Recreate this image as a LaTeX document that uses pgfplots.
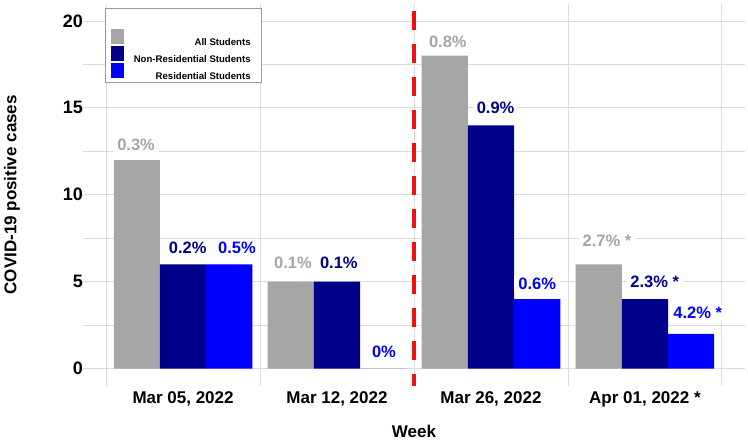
\documentclass[border=0pt]{standalone}
\usepackage{pgfplots}
\pgfplotsset{compat=1.18}
\usepackage{pgfplotstable}
\usepackage{fontspec}
\setmainfont{Liberation Sans}
\definecolor{cgray}{HTML}{A6A6A6}
\definecolor{cnavy}{HTML}{00008B}
\definecolor{cblue}{HTML}{0000FF}
\definecolor{cgrid}{HTML}{DCDCDC}
\definecolor{cred}{HTML}{EE1111}

\pgfplotstableread{
x all non res
1 12 6 6
2 5 5 0
3 18 14 4
4 6 4 2
}\cases

\pgfplotstableread[col sep=comma]{
xa,ya,la,xn,yn,ln,xr,yr,lr
0.695,12.9,0.3\%,1.03,6.95,0.2\%,1.35,6.95,0.5\%
1.714,6.1,0.1\%,2.012,6.1,0.1\%,2.305,0.98,0\%
2.72,18.8,0.8\%,3.03,15.0,0.9\%,3.30,4.85,0.6\%
3.753,7.35,2.7\%~*,4.064,5.0,2.3\%~*,4.343,3.22,4.2\%~*
}\labels

\begin{document}
\begin{tikzpicture}
\begin{axis}[
  scale only axis,
  width=662pt, height=382.4pt,
  xmin=0.35, xmax=4.65, ymin=-1, ymax=21,
  axis line style={draw=none},
  major tick length=0pt, minor tick length=0pt,
  xtick={1,2,3,4},
  xticklabels={{Mar 05, 2022}, {Mar 12, 2022}, {Mar 26, 2022}, {Apr 01, 2022 *}},
  extra x ticks={0.5,1.5,2.5,3.5,4.5},
  extra x tick labels={},
  extra x tick style={xmajorgrids=true},
  ytick={0,5,10,15,20},
  minor ytick={2.5,7.5,12.5,17.5},
  ymajorgrids, yminorgrids,
  major grid style={cgrid, line width=0.9pt},
  minor grid style={cgrid, line width=0.9pt},
  /pgf/number format/assume math mode=true,
  yticklabel style={font=\bfseries\fontsize{18}{18}\selectfont, xshift=3.5pt},
  xticklabel style={font=\bfseries\fontsize{17}{17}\selectfont, yshift=-2pt},
  xlabel={Week},
  ylabel={COVID-19 positive cases},
  xlabel style={font=\bfseries\fontsize{17}{17}\selectfont, at={(axis description cs:0.5,0)}, anchor=north, yshift=-36pt},
  ylabel style={font=\bfseries\fontsize{17}{17}\selectfont, at={(axis description cs:-0.10725,0.5)}, anchor=center},
  legend cell align=right,
  legend image code/.code={\fill[#1, draw=none] (0pt,-7.5pt) rectangle (13pt,7.5pt);},
  legend style={
    at={(axis description cs:0,1)}, anchor=north west, xshift=22pt, yshift=-4.5pt,
    draw=gray!80, line width=0.6pt, fill=white,
    inner xsep=5.5pt, inner ysep=3pt,
    column sep=10pt, row sep=0pt,
    font=\bfseries\fontsize{9.6}{10}\selectfont,
    nodes={inner sep=0pt, text height=17pt, text depth=-1pt},
  },
]
\addlegendimage{empty legend}
\addlegendentry{}

\addplot[ybar, bar width=0.3, bar shift=-0.3, fill=cgray, draw=none] table[x=x, y=all] {\cases};
\addlegendentry{All Students\kern5pt}
\addplot[ybar, bar width=0.3, bar shift=0, fill=cnavy, draw=none] table[x=x, y=non] {\cases};
\addlegendentry{Non-Residential Students\kern5pt}
\addplot[ybar, bar width=0.3, bar shift=0.3, fill=cblue, draw=none] table[x=x, y=res] {\cases};
\addlegendentry{Residential Students\kern5pt}

\addplot[forget plot, cred, line width=3.5pt, dash pattern=on 19pt off 14pt] coordinates {(2.5,20.6) (2.5,-1)};

\pgfplotsset{lblstyle/.style={forget plot, draw=none, mark=none, nodes near coords, point meta=explicit symbolic,
   nodes near coords style={anchor=center, fill=white, inner xsep=4pt, inner ysep=2pt, text=#1,
   font=\bfseries\fontsize{16.5}{17}\selectfont}}}
\addplot[lblstyle=cgray] table[x=xa, y=ya, meta=la] {\labels};
\addplot[lblstyle=cnavy] table[x=xn, y=yn, meta=ln] {\labels};
\addplot[lblstyle=cblue] table[x=xr, y=yr, meta=lr] {\labels};
\end{axis}
\pgfresetboundingbox
\useasboundingbox (-83pt,-60pt) rectangle (665pt,386pt);
\end{tikzpicture}
\end{document}
